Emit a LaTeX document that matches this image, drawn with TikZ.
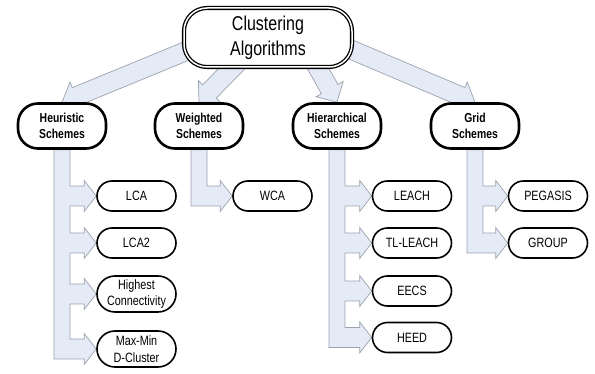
\documentclass[tikz,border=0pt]{standalone}
\usepackage{fontspec}
\setmainfont[FakeStretch=0.8]{Liberation Sans}
\usetikzlibrary{calc,backgrounds}

\definecolor{arrowfill}{RGB}{228,235,246}
\definecolor{arrowline}{RGB}{155,162,175}

% sizes of the fat arrows
\newcommand{\barhw}{8pt}
\newcommand{\shafthw}{10pt}
\newcommand{\headhw}{15.5pt}
\newcommand{\headlen}{12pt}
\newcommand{\rootshafthw}{9.5pt}
\newcommand{\roothead}{15.5pt}
\newcommand{\rootheadlen}{15pt}

% fat arrow from the root to a scheme
\newcommand{\rootarrow}[2]{%
  \coordinate (hb) at ($(#2)!\rootheadlen!(#1)$);
  \filldraw[fat] ($(#1)!\rootshafthw!90:(#2)$) -- ($(hb)!\rootshafthw!90:(#2)$)
    -- ($(hb)!\roothead!90:(#2)$) -- (#2) -- ($(hb)!\roothead!-90:(#2)$)
    -- ($(hb)!\rootshafthw!-90:(#2)$) -- ($(#1)!\rootshafthw!-90:(#2)$) -- cycle;}

% bar down from a scheme with one head per algorithm
\newcommand{\fanarrow}[3]{%
  \foreach \leaf in {#2} \coordinate (\leaf-j) at (\leaf.west -| #1.south);
  \filldraw[fat] ([xshift=\barhw]#1.south)
    \foreach \leaf in {#2} {
      -- ([xshift=\barhw,yshift=\shafthw]\leaf-j)
      -- ([xshift=-\headlen,yshift=\shafthw]\leaf.west)
      -- ([xshift=-\headlen,yshift=\headhw]\leaf.west)
      -- (\leaf.west)
      -- ([xshift=-\headlen,yshift=-\headhw]\leaf.west)
      -- ([xshift=-\headlen,yshift=-\shafthw]\leaf.west)
      -- ([xshift=\barhw,yshift=-\shafthw]\leaf-j)}
    -- ([xshift=-\barhw,yshift=-\shafthw]#3-j)
    -- ([xshift=-\barhw]#1.south) -- cycle;}

\begin{document}
\begin{tikzpicture}[x=1pt,y=-1pt,
    fat/.style={fill=arrowfill, draw=arrowline, line width=0.7pt},
    rootbox/.style={draw, double=white, double distance=1.5pt, line width=1.3pt,
      rounded corners=23pt, fill=white, minimum width=168pt, minimum height=59pt,
      inner sep=0pt, align=center, font=\fontsize{20}{25}\selectfont},
    schemebox/.style={draw, line width=2.6pt, rounded corners=20pt, fill=white,
      minimum width=88pt, minimum height=45pt, inner sep=0pt, align=center,
      font=\fontsize{13}{16.5}\selectfont\bfseries},
    leafbox/.style={draw, line width=1.6pt, rounded corners=15pt, fill=white,
      minimum width=79pt, minimum height=30pt, inner sep=0pt, align=center,
      font=\fontsize{13.5}{16.5}\selectfont},
    tallleaf/.style={leafbox, minimum height=36pt, rounded corners=18pt}]
    \useasboundingbox (0,0) rectangle (595,374);

    \node[rootbox] (clust) at (268,37.5) {Clustering\\Algorithms};

    \node[schemebox] (heur) at (62,126) {Heuristic\\Schemes};
    \node[schemebox] (weigh) at (199,126) {Weighted\\Schemes};
    \node[schemebox] (hier) at (337,126) {Hierarchical\\Schemes};
    \node[schemebox] (grid) at (475,126) {Grid\\Schemes};

    \node[leafbox] (lca) at (136.5,196) {LCA};
    \node[leafbox] (lcatwo) at (136.5,243) {LCA2};
    \node[tallleaf] (highest) at (136.5,294) {Highest\\Connectivity};
    \node[tallleaf] (maxmin) at (136.5,349) {Max-Min\\D-Cluster};

    \node[leafbox] (wca) at (272.5,196) {WCA};

    \node[leafbox] (leach) at (412,196) {LEACH};
    \node[leafbox] (tlleach) at (412,243) {TL-LEACH};
    \node[leafbox] (eecs) at (412,291) {EECS};
    \node[leafbox] (heed) at (412,337.5) {HEED};

    \node[leafbox] (pegasis) at (548,196) {PEGASIS};
    \node[leafbox] (group) at (548,243) {GROUP};

    \begin{scope}[on background layer]
        \coordinate (s-heur) at ([xshift=-33pt,yshift=6.5pt]clust.center);
        \coordinate (s-weigh) at ([xshift=-18pt,yshift=-12.5pt]clust.center);
        \coordinate (s-hier) at ([xshift=37pt,yshift=-7.5pt]clust.center);
        \coordinate (s-grid) at ([xshift=32pt,yshift=9.5pt]clust.center);
        \rootarrow{s-heur}{heur.north}
        \rootarrow{s-weigh}{weigh.north}
        \rootarrow{s-hier}{hier.north}
        \rootarrow{s-grid}{grid.north}

        \fanarrow{heur}{lca,lcatwo,highest,maxmin}{maxmin}
        \fanarrow{weigh}{wca}{wca}
        \fanarrow{hier}{leach,tlleach,eecs,heed}{heed}
        \fanarrow{grid}{pegasis,group}{group}
    \end{scope}
\end{tikzpicture}
\end{document}
